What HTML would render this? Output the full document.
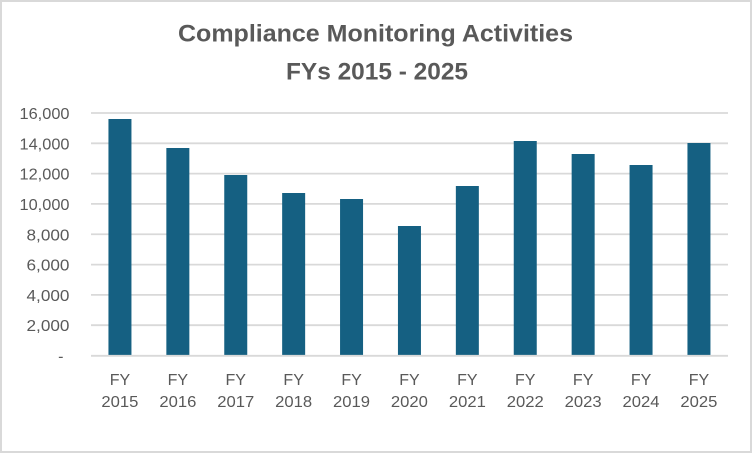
<!DOCTYPE html>
<html>
<head>
<meta charset="utf-8">
<style>
  html, body { margin: 0; padding: 0; background: #ffffff; }
  svg { display: block; }
  text { font-family: "Liberation Sans", Arial, sans-serif; fill: #595959; }
</style>
</head>
<body>
<svg width="752" height="453" viewBox="0 0 752 453" xmlns="http://www.w3.org/2000/svg">
  <rect x="0" y="0" width="752" height="453" fill="#ffffff"/>
  <rect x="1" y="1" width="750" height="451" fill="none" stroke="#d9d9d9" stroke-width="2"/>

  <!-- Title -->
  <text x="375.5" y="41.5" text-anchor="middle" font-size="24" font-weight="bold" textLength="395" lengthAdjust="spacingAndGlyphs">Compliance Monitoring Activities</text>
  <text x="377" y="79.5" text-anchor="middle" font-size="24" font-weight="bold" textLength="182" lengthAdjust="spacingAndGlyphs">FYs 2015 - 2025</text>

  <!-- Gridlines -->
  <g stroke="#d9d9d9" stroke-width="1.8">
    <line x1="91" x2="728" y1="113" y2="113"/>
    <line x1="91" x2="728" y1="143.3" y2="143.3"/>
    <line x1="91" x2="728" y1="173.6" y2="173.6"/>
    <line x1="91" x2="728" y1="203.9" y2="203.9"/>
    <line x1="91" x2="728" y1="234.25" y2="234.25"/>
    <line x1="91" x2="728" y1="264.6" y2="264.6"/>
    <line x1="91" x2="728" y1="294.9" y2="294.9"/>
    <line x1="91" x2="728" y1="325.2" y2="325.2"/>
  </g>

  <!-- Y labels -->
  <g font-size="16" text-anchor="end">
    <text x="69.5" y="119" textLength="50" lengthAdjust="spacingAndGlyphs">16,000</text>
    <text x="69.5" y="149.3" textLength="50" lengthAdjust="spacingAndGlyphs">14,000</text>
    <text x="69.5" y="179.6" textLength="50" lengthAdjust="spacingAndGlyphs">12,000</text>
    <text x="69.5" y="209.9" textLength="50" lengthAdjust="spacingAndGlyphs">10,000</text>
    <text x="69.5" y="240.25" textLength="43" lengthAdjust="spacingAndGlyphs">8,000</text>
    <text x="69.5" y="270.6" textLength="43" lengthAdjust="spacingAndGlyphs">6,000</text>
    <text x="69.5" y="300.9" textLength="43" lengthAdjust="spacingAndGlyphs">4,000</text>
    <text x="69.5" y="331.2" textLength="43" lengthAdjust="spacingAndGlyphs">2,000</text>
    <text x="63.5" y="361.5">-</text>
  </g>

  <!-- Bars -->
  <g fill="#156082">
    <rect x="108.45" y="119" width="23" height="236"/>
    <rect x="166.35" y="148" width="23" height="207"/>
    <rect x="224.25" y="175" width="23" height="180"/>
    <rect x="282.15" y="193" width="23" height="162"/>
    <rect x="340.05" y="199" width="23" height="156"/>
    <rect x="397.95" y="226" width="23" height="129"/>
    <rect x="455.85" y="186" width="23" height="169"/>
    <rect x="513.75" y="141" width="23" height="214"/>
    <rect x="571.65" y="154" width="23" height="201"/>
    <rect x="629.55" y="165" width="23" height="190"/>
    <rect x="687.45" y="143" width="23" height="212"/>
  </g>

  <!-- Baseline -->
  <line x1="91" x2="728" y1="355.8" y2="355.8" stroke="#d9d9d9" stroke-width="1.8"/>

  <!-- X labels -->
  <g font-size="16" text-anchor="middle">
    <text x="119.95" y="385">FY</text><text x="119.95" y="407" textLength="37" lengthAdjust="spacingAndGlyphs">2015</text>
    <text x="177.85" y="385">FY</text><text x="177.85" y="407" textLength="37" lengthAdjust="spacingAndGlyphs">2016</text>
    <text x="235.75" y="385">FY</text><text x="235.75" y="407" textLength="37" lengthAdjust="spacingAndGlyphs">2017</text>
    <text x="293.65" y="385">FY</text><text x="293.65" y="407" textLength="37" lengthAdjust="spacingAndGlyphs">2018</text>
    <text x="351.55" y="385">FY</text><text x="351.55" y="407" textLength="37" lengthAdjust="spacingAndGlyphs">2019</text>
    <text x="409.45" y="385">FY</text><text x="409.45" y="407" textLength="37" lengthAdjust="spacingAndGlyphs">2020</text>
    <text x="467.35" y="385">FY</text><text x="467.35" y="407" textLength="37" lengthAdjust="spacingAndGlyphs">2021</text>
    <text x="525.25" y="385">FY</text><text x="525.25" y="407" textLength="37" lengthAdjust="spacingAndGlyphs">2022</text>
    <text x="583.15" y="385">FY</text><text x="583.15" y="407" textLength="37" lengthAdjust="spacingAndGlyphs">2023</text>
    <text x="641.05" y="385">FY</text><text x="641.05" y="407" textLength="37" lengthAdjust="spacingAndGlyphs">2024</text>
    <text x="698.95" y="385">FY</text><text x="698.95" y="407" textLength="37" lengthAdjust="spacingAndGlyphs">2025</text>
  </g>
</svg>
</body>
</html>
